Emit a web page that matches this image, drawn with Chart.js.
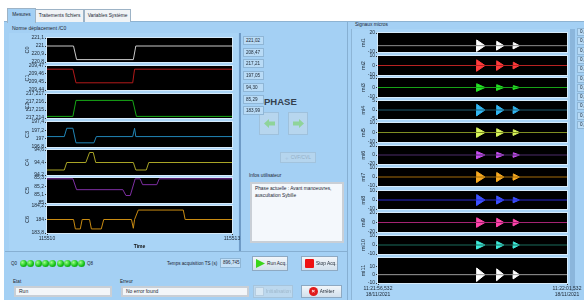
<!DOCTYPE html>
<html>
<head>
<meta charset="utf-8">
<script src="https://cdn.jsdelivr.net/npm/chart.js@4.4.1/dist/chart.umd.min.js"></script>
<style>
body{margin:0;width:584px;height:302px;overflow:hidden;background:#fff;position:relative;
  font-family:"Liberation Sans",Arial,sans-serif;color:#1c2632}
.a{position:absolute}
.t{position:absolute;font-size:5px;white-space:nowrap}
.tab{position:absolute;top:9px;height:12px;border:1px solid #9db3c6;border-bottom:none;font-size:4.8px;
  line-height:12px;text-align:center;background:#f0f3f6;white-space:nowrap;overflow:hidden}
.box{position:absolute;z-index:3;background:#b9dbf6;border:1px solid #8fb6d6;font-size:4.6px;line-height:8px;
  padding-left:2px;box-sizing:border-box;white-space:nowrap;overflow:hidden}
.btn{position:absolute;z-index:3;background:linear-gradient(#f2f6fa,#d2e0ec);border:1px solid #8ea9c2;
  font-size:4.8px;display:flex;align-items:center;justify-content:center;gap:2px;box-sizing:border-box;white-space:nowrap}
.field{position:absolute;background:#f3f6f9;border:2px solid #c9cfd6;box-sizing:border-box;font-size:5px;
  line-height:7px;padding-left:3px;white-space:nowrap}
.led{position:absolute;top:260px;width:7px;height:7px;border-radius:50%;
  background:radial-gradient(circle at 35% 35%,#9dff8a,#19c51c 55%,#0b7d10)}
</style>
</head>
<body>
<!-- window frame -->
<div class="a" style="left:4px;top:21px;width:580px;height:278px;background:#a4d0f4;border-top:1px solid #8eb3d2"></div>
<div class="tab" style="left:7px;top:8px;width:27px;height:14px;background:#a4d0f4">Mesures</div>
<div class="tab" style="left:35px;width:47px">Traitements fichiers</div>
<div class="tab" style="left:84px;width:45px">Variables Système</div>

<!-- left group -->
<div class="t" style="left:12px;top:25px">Norme déplacement /C0</div>
<div class="a" style="left:9px;top:33px;width:229px;height:218px;background:#a9d4f6"></div>
<div class="a" style="left:239px;top:33px;width:2px;height:218px;background:#6f9bc6"></div>
<div class="a" style="left:5px;top:251px;width:343px;height:1px;background:#86afd2"></div>
<div class="a" style="left:347px;top:22px;width:1px;height:278px;background:#86afd2"></div>

<div class="t" style="left:264px;top:96px;font-size:9.5px;font-weight:bold;color:#34414f">PHASE</div>
<div class="btn" style="left:259px;top:112px;width:20px;height:23px;background:#b7d6ee;border-color:#9fc1dc">
  <svg width="11" height="9"><polygon points="0,4.5 5,0 5,2.5 11,2.5 11,6.5 5,6.5 5,9" fill="#8fd49a"/></svg></div>
<div class="btn" style="left:288px;top:112px;width:20px;height:23px;background:#b7d6ee;border-color:#9fc1dc">
  <svg width="11" height="9"><polygon points="11,4.5 6,0 6,2.5 0,2.5 0,6.5 6,6.5 6,9" fill="#8fd49a"/></svg></div>
<div class="btn" style="left:280px;top:152px;width:36px;height:11px;background:#b5d5ee;border-color:#a2c3dd;color:#93aec6">
  <span style="color:#a9c7e2;font-weight:bold;font-size:6px">+</span>CVF/CVL</div>
<div class="t" style="left:249px;top:173px;font-size:4.8px">Infos utilisateur</div>
<div class="field" style="left:250px;top:182px;width:94px;height:61px;background:#f4f8fc;padding-top:2px;font-size:4.8px;line-height:6.5px">
  Phase actuelle : Avant manoeuvres,<br>auscultation Sybille</div>

<!-- bottom controls -->
<div class="t" style="left:11px;top:261px;font-size:4.5px">Q0</div>
<div class="t" style="left:87px;top:261px;font-size:4.5px">Q8</div>
<div class="t" style="left:167px;top:261px;font-size:4.6px">Temps acquisition TS (s)</div>
<div class="box" style="left:220px;top:258px;width:21px;height:10px;line-height:8px;background:#c4e0f7">896,745</div>
<div class="btn" style="left:252px;top:256px;width:36px;height:15px;justify-content:flex-start;padding-left:3px">
  <svg width="9" height="9"><polygon points="0,0 9,4.5 0,9" fill="#3ad51a"/></svg>Run Acq.</div>
<div class="btn" style="left:301px;top:256px;width:37px;height:15px;justify-content:flex-start;padding-left:3px">
  <span style="display:inline-block;width:9px;height:9px;background:#ee1111;border-radius:1px"></span>Stop Acq.</div>
<div class="t" style="left:13px;top:279px;font-size:4.6px">Etat</div>
<div class="field" style="left:14px;top:286px;width:98px;height:11px">Run</div>
<div class="t" style="left:120px;top:279px;font-size:4.6px">Erreur</div>
<div class="field" style="left:121px;top:286px;width:128px;height:11px">No error found</div>
<div class="btn" style="left:253px;top:285px;width:40px;height:13px;background:#bcd8ee;border-color:#a6c4dc;color:#9fb8cc">
  <span style="display:inline-block;width:7px;height:7px;background:#d8e8f4;border:1px solid #b6cde0"></span>Initialisation</div>
<div class="btn" style="left:301px;top:285px;width:41px;height:13px">
  <span style="display:inline-block;width:9px;height:9px;border-radius:50%;background:#e01b1b;color:#fff;font-size:6px;line-height:9px;text-align:center;font-weight:bold">×</span>Arrêter</div>

<!-- right group -->
<div class="t" style="left:355px;top:22px;font-size:4.8px">Signaux micros</div>
<div class="a" style="left:351px;top:29px;width:221px;height:271px;background:#a9d4f6;border-left:1px solid #8db5d6"></div>
<div class="a" style="left:570px;top:29px;width:5px;height:262px;background:#8bb6dc"></div>

<script>
// ---- left: displacement per channel (time in s) ----
const leftNames = ['C0', 'C1', 'C2', 'C3', 'C4', 'C5', 'C6'];
const c0Time = [115510, 115510.43, 115510.48, 115511.40, 115511.44, 115513];
const c0Val  = [221.0, 221.0, 220.83, 220.83, 221.0, 221.0];
const c1Time = [115510, 115510.42, 115510.47, 115511.39, 115511.42, 115513];
const c1Val  = [209.466, 209.466, 209.449, 209.449, 209.466, 209.466];
const c2Time = [115510, 115510.42, 115510.47, 115511.39, 115511.45, 115513];
const c2Val  = [217.2142, 217.2142, 217.2162, 217.2162, 217.2142, 217.2142];
const c3Time = [115510, 115510.28, 115510.32, 115510.42, 115510.47, 115510.76, 115510.80, 115511.39, 115511.42, 115511.44, 115513];
const c3Val  = [197.05, 197.05, 197.25, 197.25, 196.9, 196.9, 197.05, 197.05, 197.25, 197.05, 197.05];
const c4Time = [115510, 115510.28, 115510.32, 115510.63, 115510.69, 115510.75, 115510.79, 115511.40, 115511.44, 115511.61, 115511.65, 115513];
const c4Val  = [94.28, 94.28, 94.4, 94.4, 94.56, 94.56, 94.4, 94.4, 94.28, 94.28, 94.4, 94.4];
const c5Time = [115510, 115510.42, 115510.48, 115511.23, 115511.28, 115511.35, 115511.43, 115511.51, 115511.55, 115511.78, 115511.82, 115513];
const c5Val  = [85.29, 85.29, 85.16, 85.16, 85.09, 85.09, 85.29, 85.29, 85.22, 85.22, 85.29, 85.29];
const c6Time = [115510, 115510.43, 115510.46, 115510.54, 115510.57, 115510.69, 115510.72, 115510.88, 115510.92, 115511.37, 115511.40, 115511.42, 115511.48, 115512.21, 115512.24, 115513];
const c6Val  = [184, 184, 183.86, 183.86, 184, 184, 183.86, 183.86, 184, 184, 183.87, 184, 184.14, 184.14, 184, 184];

const leftMin = [220.8, 209.44, 217.214, 196.8, 94.2, 85.0, 183.8];
const leftMax = [221.1, 209.47, 217.217, 197.4, 94.6, 85.3, 184.2];
const leftTicks = [
  [220.8, 220.9, 221, 221.1], [209.44, 209.45, 209.46, 209.47], [217.214, 217.215, 217.216, 217.217],
  [196.8, 197, 197.2, 197.4], [94.2, 94.4, 94.6], [85, 85.1, 85.2, 85.3], [183.8, 184, 184.2]
];
const leftReadout = ['221,02', '208,47', '217,21', '197,05', '94,30', '85,29', '183,99'];
const timeTicks = [115510, 115513];

// ---- right: microphone signals (s after start) ----
const micNames = ['mi1', 'mi2', 'mi3', 'mi4', 'mi5', 'mi6', 'mi7', 'mi8', 'mi9', 'mi10', 'mi11'];
const micSpan = [0, 5];
const micStartLabel = ['11:21:56,532', '18/11/2021'];
const micEndLabel = ['11:22:01,532', '18/11/2021'];
const burstTime = [2.61, 3.14, 3.58];
const burstWidth = [0.22, 0.19, 0.16];
const mi1Peak = [9, 7, 5];
const mi2Peak = [6, 5, 3.5];
const mi3Peak = [4, 3, 2];
const mi4Peak = [3.2, 2.6, 2];
const mi5Peak = [5, 4, 3];
const mi6Peak = [8, 6, 5];
const mi7Peak = [6, 5, 3.5];
const mi8Peak = [6, 4.5, 3];
const mi9Peak = [10, 9, 7];
const mi10Peak = [4.5, 4, 3.5];
const mi11Peak = [8, 7, 5];
const micMin = [-10, -10, -10, -5, -10, -20, -10, -10, -20, -10, -10];
const micMax = [20, 10, 10, 5, 10, 20, 10, 10, 20, 10, 20];
const micTicks = [[-10, 20], [-10, 0, 10], [-10, 0, 10], [-5, 0, 5], [-10, 0, 10], [-20, 0, 20],
  [-10, 0, 10], [-10, 0, 10], [-20, 0, 20], [-10, 0, 10], [-10, 0, 10]];

// styling
const leftColors = ['#c9c9c9', '#b31a1a', '#17a817', '#2186b8', '#a9a526', '#7e2fa3', '#c98b12'];
const micBase = ['#8e8e8e', '#b82222', '#17a317', '#1e5d72', '#7f8f22', '#4d2c6a', '#a46c0b', '#2b2bd2', '#a52373', '#1b6c5c', '#9b9b9b'];
const micBurst = ['#ffffff', '#ff3c3c', '#25e325', '#32b6f2', '#d9f65c', '#c94ef2', '#f6a921', '#3d52ff', '#ff46ab', '#3ee9d9', '#ffffff'];

const leftSeries = [[c0Time, c0Val], [c1Time, c1Val], [c2Time, c2Val], [c3Time, c3Val], [c4Time, c4Val], [c5Time, c5Val], [c6Time, c6Val]];
const micPeaks = [mi1Peak, mi2Peak, mi3Peak, mi4Peak, mi5Peak, mi6Peak, mi7Peak, mi8Peak, mi9Peak, mi10Peak, mi11Peak];

const fontSmall = { family: '"Liberation Sans", Arial, sans-serif', size: 5 };
const frFmt = v => String(+Number(v).toFixed(4)).replace('.', ',');

const plotBg = {
  id: 'plotBg',
  beforeDraw(chart) {
    const { ctx, chartArea: a } = chart;
    ctx.save();
    ctx.fillStyle = '#000';
    ctx.fillRect(a.left, a.top, a.width, a.height);
    ctx.restore();
  },
  afterDraw(chart) {
    const { ctx, chartArea: a } = chart;
    ctx.save();
    ctx.strokeStyle = '#d6ebfb';
    ctx.lineWidth = 1;
    ctx.strokeRect(a.left - 0.5, a.top - 0.5, a.width + 1, a.height + 1);
    ctx.restore();
  }
};

function makeCanvas(left, top, w, h) {
  const c = document.createElement('canvas');
  c.width = w; c.height = h;
  c.style.cssText = `position:absolute;z-index:2;left:${left}px;top:${top}px;width:${w}px;height:${h}px`;
  document.body.appendChild(c);
  return c;
}

function stripOptions(o) {
  return {
    responsive: false, animation: false, maintainAspectRatio: false,
    layout: { padding: { top: 4, bottom: o.last ? 0 : 4, left: 0, right: o.padRight } },
    plugins: { legend: { display: false }, tooltip: { enabled: false } },
    scales: {
      x: {
        type: 'linear', min: o.xMin, max: o.xMax, display: o.last,
        afterBuildTicks: s => { s.ticks = o.xTicks.map(v => ({ value: v })); },
        grid: { drawOnChartArea: false, tickLength: 2, color: '#333' },
        border: { display: false },
        ticks: { autoSkip: false, maxRotation: 0, padding: 1, color: '#1c2632', font: fontSmall, callback: o.xFmt },
        title: { display: !!o.xTitle, text: o.xTitle, color: '#111', padding: { top: 1, bottom: 0 },
                 font: { family: fontSmall.family, size: 5, weight: 'bold' } }
      },
      y: {
        min: o.yMin, max: o.yMax,
        afterBuildTicks: s => { s.ticks = o.yTicks.map(v => ({ value: v })); },
        afterFit: s => { s.width = o.axisW; },
        grid: { drawOnChartArea: false, tickLength: 2, color: '#333' },
        border: { display: false },
        ticks: { autoSkip: false, padding: 1, color: '#1c2632', font: fontSmall, callback: frFmt },
        title: { display: true, text: o.name, color: '#1c2632', font: { family: fontSmall.family, size: 5.5 },
                 padding: { top: o.titlePad, bottom: 0 } }
      }
    }
  };
}

// left strips
const leftTop = [38, 66, 94, 122, 150, 178, 206];
const leftH = [24, 24, 24, 25, 25, 25, 26];
leftNames.forEach((name, i) => {
  const last = i === leftNames.length - 1;
  const [tt, vv] = leftSeries[i];
  const cv = makeCanvas(20, leftTop[i] - 4, 240, leftH[i] + (last ? 4 + 18 : 8));
  new Chart(cv, {
    type: 'line',
    data: { datasets: [{ data: tt.map((t, k) => ({ x: t, y: vv[k] })), borderColor: leftColors[i],
                         borderWidth: 1, pointRadius: 0, tension: 0 }] },
    options: stripOptions({ last, name, xMin: timeTicks[0], xMax: timeTicks[1], xTicks: timeTicks,
      xFmt: v => String(v), xTitle: 'Time', yMin: leftMin[i], yMax: leftMax[i], yTicks: leftTicks[i],
      axisW: 27, titlePad: 4, padRight: 28 }),
    plugins: [plotBg]
  });
  const b = document.createElement('div');
  b.className = 'box';
  b.style.cssText = `left:243px;top:${36 + i * 11.7}px;width:21px;height:9px`;
  b.textContent = leftReadout[i];
  document.body.appendChild(b);
});

// right strips
const micTop = [33, 56, 78, 101, 123, 146, 168, 191, 213, 236, 258];
const micH = [19, 19, 19, 18, 19, 18, 18, 18, 19, 18, 25];
micNames.forEach((name, i) => {
  const last = i === micNames.length - 1;
  const ds = [{ data: micSpan.map(t => ({ x: t, y: 0 })), borderColor: micBase[i], borderWidth: 1 }];
  burstTime.forEach((t0, k) => {
    const a = micPeaks[i][k], w = burstWidth[k];
    ds.push({ data: [{ x: t0, y: 0 }, { x: t0, y: a }, { x: t0 + w, y: 0 }], borderColor: micBurst[i],
              backgroundColor: micBurst[i], borderWidth: 1, fill: '+1' });
    ds.push({ data: [{ x: t0, y: 0 }, { x: t0, y: -a }, { x: t0 + w, y: 0 }], borderColor: micBurst[i],
              borderWidth: 1, fill: false });
  });
  ds.forEach(d => { d.pointRadius = 0; d.tension = 0; });
  const cv = makeCanvas(352, micTop[i] - 4, 250, micH[i] + (last ? 4 + 16 : 8));
  new Chart(cv, {
    type: 'line',
    data: { datasets: ds },
    options: stripOptions({ last, name, xMin: micSpan[0], xMax: micSpan[1], xTicks: micSpan,
      xFmt: v => (v === micSpan[0] ? micStartLabel : micEndLabel), xTitle: '',
      yMin: micMin[i], yMax: micMax[i], yTicks: micTicks[i], axisW: 26, titlePad: 8, padRight: 35 }),
    plugins: [plotBg]
  });
  const b = document.createElement('div');
  b.className = 'box';
  b.style.cssText = `left:577px;top:${28 + i * 9.3}px;width:20px;height:8px;line-height:6px`;
  b.textContent = '0,00';
  document.body.appendChild(b);
});

// acquisition LEDs Q0..Q8
for (let q = 0; q < 9; q++) {
  const d = document.createElement('div');
  d.className = 'led';
  d.style.left = (20 + q * 7.3) + 'px';
  document.body.appendChild(d);
}
</script>
</body>
</html>
